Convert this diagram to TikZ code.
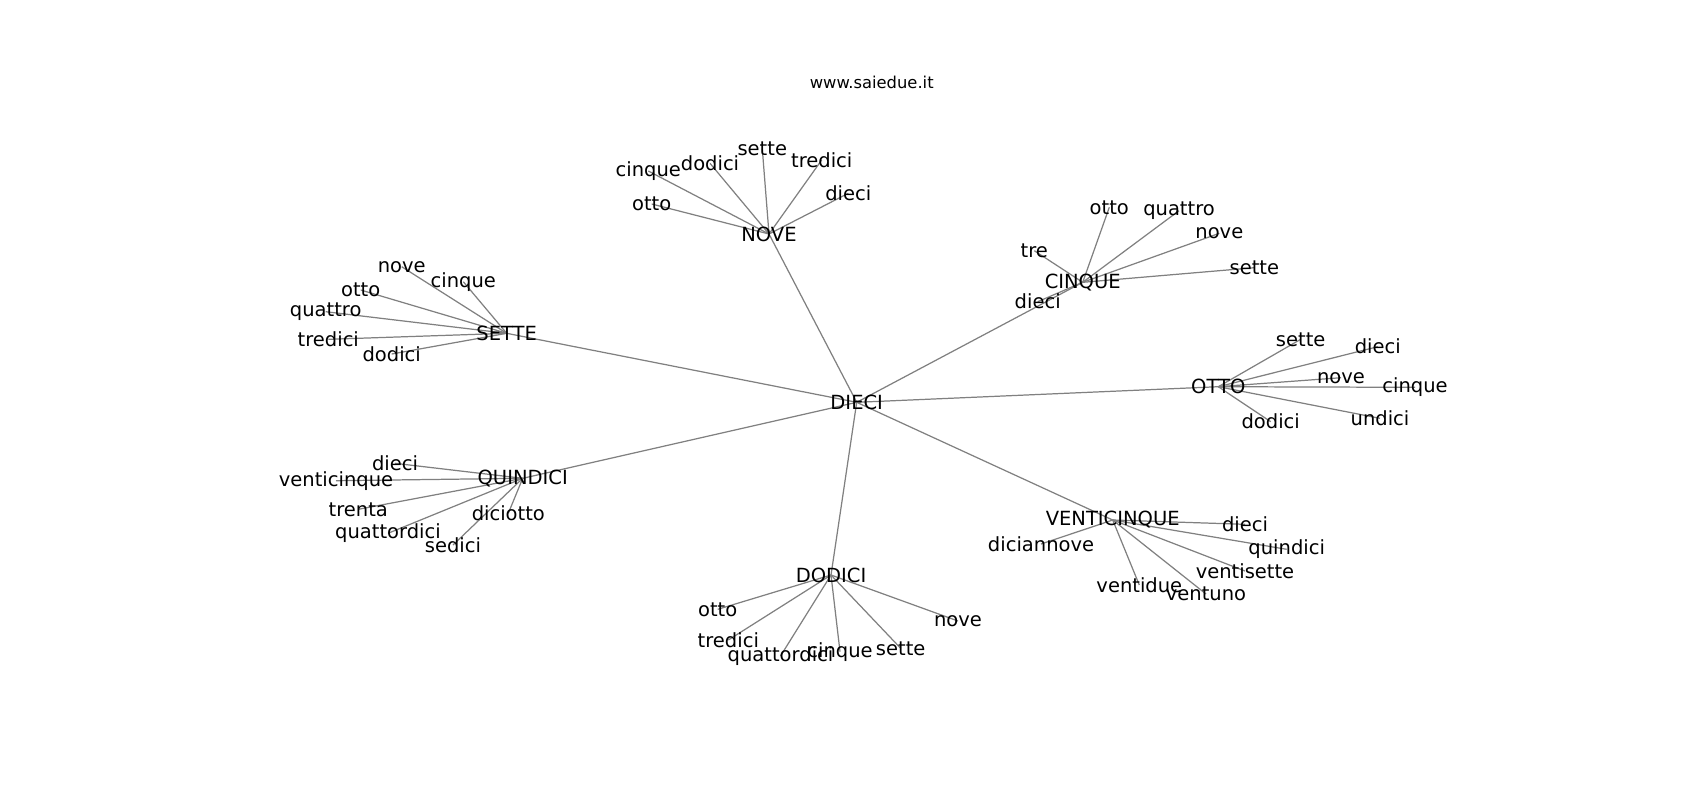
\documentclass[tikz,border=0pt]{standalone}
\usepackage{fontspec}
\setmainfont{DejaVu Sans}
\usetikzlibrary{backgrounds}

\begin{document}
\begin{tikzpicture}[x=0.2mm, y=-0.2mm,
    every node/.style={inner sep=0pt, font=\fontsize{11.1}{13}\selectfont},
    link/.style={draw=gray, line width=0.7pt}]
    \useasboundingbox (0,0) rectangle (1700,800);
    \node (title) at (871.7,82.7) {\fontsize{9.3}{11}\selectfont www.saiedue.it};
    % centre
    \node (dieci) at (856.7,402.3) {DIECI};
    % hubs
    \node (nove) at (769,234) {NOVE};
    \node (sette) at (506.7,333.3) {SETTE};
    \node (cinque) at (1082.7,282.3) {CINQUE};
    \node (otto) at (1218.3,386.7) {OTTO};
    \node (quindici) at (522.7,478.3) {QUINDICI};
    \node (dodici) at (831,575) {DODICI};
    \node (venticinque) at (1112.7,520) {VENTICINQUE};
    % leaves of NOVE
    \node (nove-cinque) at (648.3,171) {cinque};
    \node (nove-dodici) at (710,163.3) {dodici};
    \node (nove-sette) at (762.3,149) {sette};
    \node (nove-tredici) at (821.7,160) {tredici};
    \node (nove-dieci) at (848.3,193.3) {dieci};
    \node (nove-otto) at (651.7,204) {otto};
    % leaves of SETTE
    \node (sette-nove) at (401.7,266.7) {nove};
    \node (sette-cinque) at (463.3,281.7) {cinque};
    \node (sette-otto) at (360.7,290) {otto};
    \node (sette-quattro) at (325.7,311.7) {quattro};
    \node (sette-tredici) at (328.3,339.3) {tredici};
    \node (sette-dodici) at (391.7,354) {dodici};
    % leaves of CINQUE
    \node (cinque-otto) at (1109.3,207.3) {otto};
    \node (cinque-quattro) at (1179,210.7) {quattro};
    \node (cinque-nove) at (1219.3,233.3) {nove};
    \node (cinque-sette) at (1254.3,267.7) {sette};
    \node (cinque-tre) at (1034.3,250.7) {tre};
    \node (cinque-dieci) at (1037.7,301.7) {dieci};
    % leaves of OTTO
    \node (otto-sette) at (1300.7,339.3) {sette};
    \node (otto-dieci) at (1377.7,346.7) {dieci};
    \node (otto-nove) at (1341,377.7) {nove};
    \node (otto-cinque) at (1415,387.3) {cinque};
    \node (otto-undici) at (1380,418.3) {undici};
    \node (otto-dodici) at (1270.7,421.7) {dodici};
    % leaves of QUINDICI
    \node (quindici-dieci) at (395,463.3) {dieci};
    \node (quindici-venticinque) at (336,480.7) {venticinque};
    \node (quindici-trenta) at (358.3,509.3) {trenta};
    \node (quindici-quattordici) at (388,533.3) {quattordici};
    \node (quindici-sedici) at (453,545) {sedici};
    \node (quindici-diciotto) at (508.3,513.3) {diciotto};
    % leaves of DODICI
    \node (dodici-otto) at (717.7,609.3) {otto};
    \node (dodici-tredici) at (728.3,640) {tredici};
    \node (dodici-quattordici) at (780.5,656) {quattordici};
    \node (dodici-cinque) at (840,651.7) {cinque};
    \node (dodici-sette) at (900.7,648.3) {sette};
    \node (dodici-nove) at (958,621) {nove};
    % leaves of VENTICINQUE
    \node (venticinque-diciannove) at (1041,544) {diciannove};
    \node (venticinque-ventidue) at (1139.3,585) {ventidue};
    \node (venticinque-ventuno) at (1206,594) {ventuno};
    \node (venticinque-ventisette) at (1245,571) {ventisette};
    \node (venticinque-quindici) at (1286.7,549.3) {quindici};
    \node (venticinque-dieci) at (1245,524.3) {dieci};
    % edges under the labels
    \begin{scope}[on background layer]
        \draw[link] (dieci.center) -- (nove.center);
        \draw[link] (dieci.center) -- (sette.center);
        \draw[link] (dieci.center) -- (cinque.center);
        \draw[link] (dieci.center) -- (otto.center);
        \draw[link] (dieci.center) -- (quindici.center);
        \draw[link] (dieci.center) -- (dodici.center);
        \draw[link] (dieci.center) -- (venticinque.center);
        \draw[link] (nove.center) -- (nove-cinque.center);
        \draw[link] (nove.center) -- (nove-dodici.center);
        \draw[link] (nove.center) -- (nove-sette.center);
        \draw[link] (nove.center) -- (nove-tredici.center);
        \draw[link] (nove.center) -- (nove-dieci.center);
        \draw[link] (nove.center) -- (nove-otto.center);
        \draw[link] (sette.center) -- (sette-nove.center);
        \draw[link] (sette.center) -- (sette-cinque.center);
        \draw[link] (sette.center) -- (sette-otto.center);
        \draw[link] (sette.center) -- (sette-quattro.center);
        \draw[link] (sette.center) -- (sette-tredici.center);
        \draw[link] (sette.center) -- (sette-dodici.center);
        \draw[link] (cinque.center) -- (cinque-otto.center);
        \draw[link] (cinque.center) -- (cinque-quattro.center);
        \draw[link] (cinque.center) -- (cinque-nove.center);
        \draw[link] (cinque.center) -- (cinque-sette.center);
        \draw[link] (cinque.center) -- (cinque-tre.center);
        \draw[link] (cinque.center) -- (cinque-dieci.center);
        \draw[link] (otto.center) -- (otto-sette.center);
        \draw[link] (otto.center) -- (otto-dieci.center);
        \draw[link] (otto.center) -- (otto-nove.center);
        \draw[link] (otto.center) -- (otto-cinque.center);
        \draw[link] (otto.center) -- (otto-undici.center);
        \draw[link] (otto.center) -- (otto-dodici.center);
        \draw[link] (quindici.center) -- (quindici-dieci.center);
        \draw[link] (quindici.center) -- (quindici-venticinque.center);
        \draw[link] (quindici.center) -- (quindici-trenta.center);
        \draw[link] (quindici.center) -- (quindici-quattordici.center);
        \draw[link] (quindici.center) -- (quindici-sedici.center);
        \draw[link] (quindici.center) -- (quindici-diciotto.center);
        \draw[link] (dodici.center) -- (dodici-otto.center);
        \draw[link] (dodici.center) -- (dodici-tredici.center);
        \draw[link] (dodici.center) -- (dodici-quattordici.center);
        \draw[link] (dodici.center) -- (dodici-cinque.center);
        \draw[link] (dodici.center) -- (dodici-sette.center);
        \draw[link] (dodici.center) -- (dodici-nove.center);
        \draw[link] (venticinque.center) -- (venticinque-diciannove.center);
        \draw[link] (venticinque.center) -- (venticinque-ventidue.center);
        \draw[link] (venticinque.center) -- (venticinque-ventuno.center);
        \draw[link] (venticinque.center) -- (venticinque-ventisette.center);
        \draw[link] (venticinque.center) -- (venticinque-quindici.center);
        \draw[link] (venticinque.center) -- (venticinque-dieci.center);
    \end{scope}
\end{tikzpicture}
\end{document}
